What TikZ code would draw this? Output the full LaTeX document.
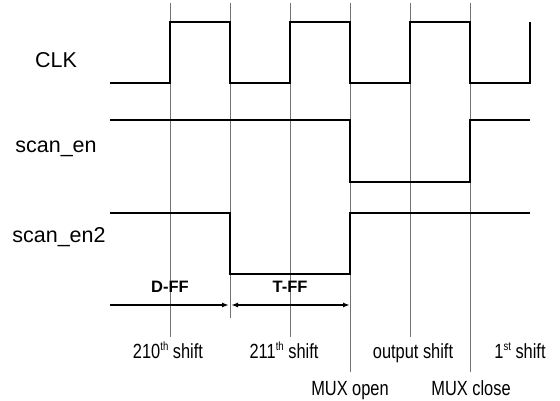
\documentclass[tikz,border=0pt]{standalone}
\usepackage{fontspec}
\setmainfont{Liberation Sans}
\newfontfamily\narrowfont[FakeStretch=0.8]{Liberation Sans}
\usetikzlibrary{arrows.meta}
\tikzset{
  wave/.style={line width=1.9pt, line join=miter},
  guide/.style={line width=0.6pt, black!55},
  sig/.style={font=\fontsize{21.5}{24}\selectfont, anchor=base, inner sep=0pt},
  bot/.style={font=\narrowfont\fontsize{20.5}{24}\selectfont, anchor=base, inner sep=0pt},
  ff/.style={font=\bfseries\fontsize{16.5}{18}\selectfont, anchor=base, inner sep=0pt},
  tip/.style={line width=1.7pt},
}
\newcommand{\supx}[1]{\raisebox{0.38em}{\fontsize{12}{12}\selectfont #1}}
\begin{document}
\begin{tikzpicture}[x=1pt,y=-1pt]
\useasboundingbox (0,0) rectangle (560,401);
% guide lines
\draw[guide] (170,3) -- (170,337);
\draw[guide] (230,3) -- (230,318);
\draw[guide] (290,3) -- (290,337);
\draw[guide] (350,3) -- (350,372);
\draw[guide] (410,3) -- (410,337);
\draw[guide] (470,3) -- (470,372);
% CLK
\draw[wave] (110,83) -- (170,83) -- (170,22) -- (230,22) -- (230,83) -- (290,83) -- (290,22)
  -- (350,22) -- (350,83) -- (410,83) -- (410,22) -- (470,22) -- (470,83) -- (530,83) -- (530,22);
% scan_en
\draw[wave] (110,120) -- (350,120) -- (350,182) -- (470,182) -- (470,120) -- (530,120);
% scan_en2
\draw[wave] (110,213) -- (230,213) -- (230,274) -- (350,274) -- (350,213) -- (530,213);
% arrows
\coordinate (a0) at (110,305);
\coordinate (a1) at (229,305);
\coordinate (a2) at (231,305);
\coordinate (a3) at (350,305);
\draw[tip, -{Latex[length=7pt,width=5pt]}] (a0) -- (a1);
\draw[tip, {Latex[length=7pt,width=5pt]}-{Latex[length=7pt,width=5pt]}] (a2) -- (a3);
% labels
\node[sig] (clk) at (56,68) {CLK};
\node[sig] (sen) at (56,153) {scan\_en};
\node[sig] (sen2) at (59,243) {scan\_en2};
\node[ff] (dff) at (170,292) {D-FF};
\node[ff] (tff) at (290,292) {T-FF};
\node[bot] (s210) at (168,358) {210\supx{th} shift};
\node[bot] (s211) at (284,358) {211\supx{th} shift};
\node[bot] (sout) at (413,358) {output shift};
\node[bot] (s1) at (520,358) {1\supx{st} shift};
\node[bot] (mo) at (350,395) {MUX open};
\node[bot] (mc) at (471,395) {MUX close};
\end{tikzpicture}
\end{document}
